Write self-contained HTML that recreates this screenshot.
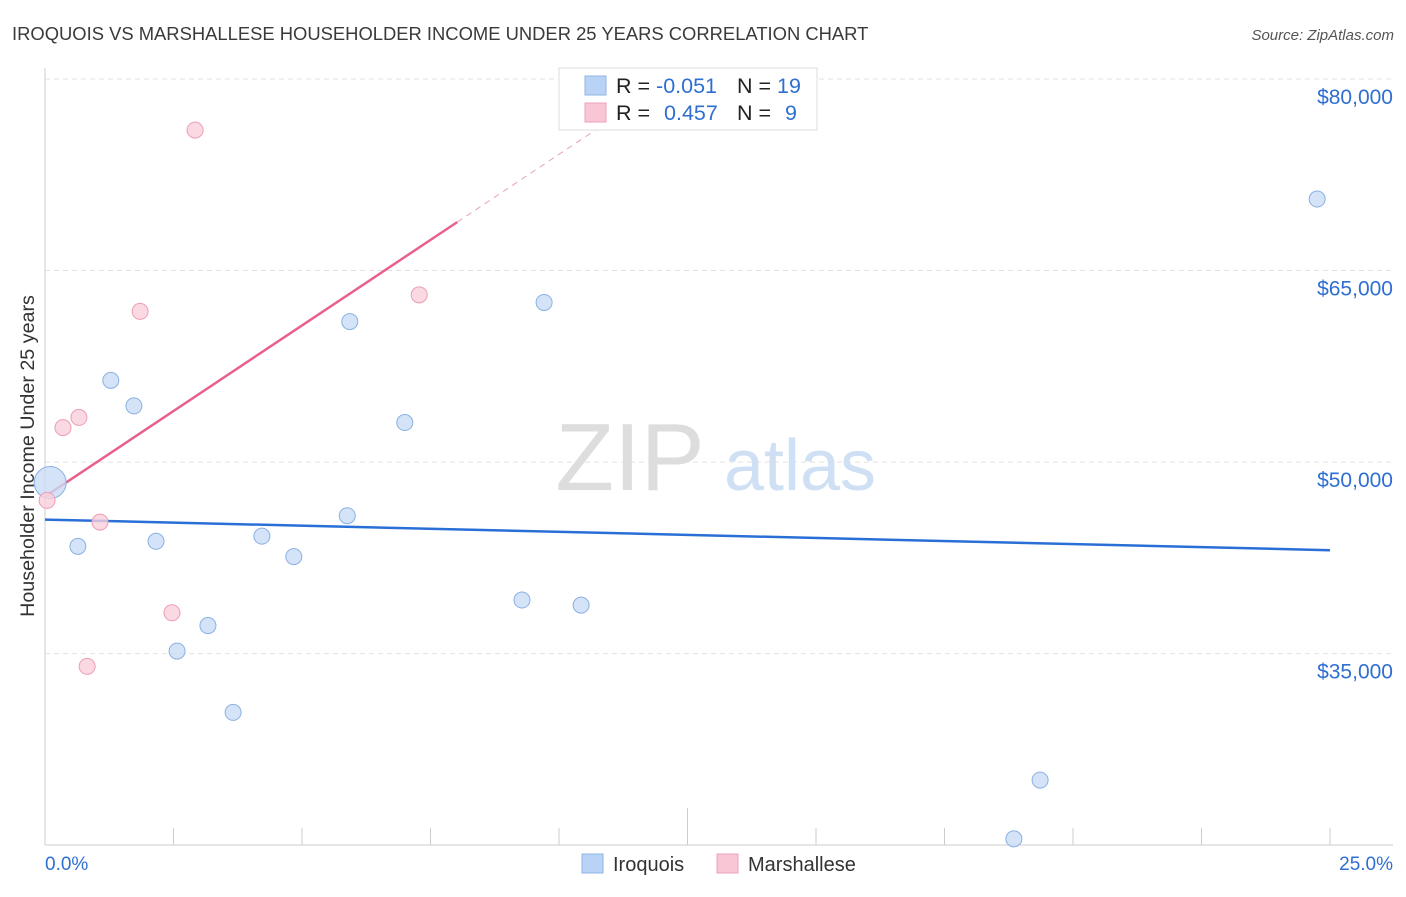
<!DOCTYPE html>
<html><head><meta charset="utf-8"><style>
body{margin:0;background:#fff;font-family:"Liberation Sans",sans-serif;}
svg text{font-family:"Liberation Sans",sans-serif;}
</style></head><body>
<svg width="1406" height="892">
<text x="12" y="40" font-size="18.4" fill="#3a3a3a">IROQUOIS VS MARSHALLESE HOUSEHOLDER INCOME UNDER 25 YEARS CORRELATION CHART</text>
<text x="1394" y="40" font-size="15" fill="#555" font-style="italic" text-anchor="end">Source: ZipAtlas.com</text>
<g id="grid"></g>
<text x="630" y="490" font-size="96" fill="#ddd" font-family="Liberation Serif" text-anchor="middle">ZIP</text>
<text x="800" y="490" font-size="72" fill="#cfe0f5" text-anchor="middle">atlas</text>
<text transform="translate(34,456) rotate(-90)" font-size="19.7" fill="#333" text-anchor="middle">Householder Income Under 25 years</text>
<g id="lines"></g>
<g id="pts"></g>
<rect x="559" y="68" width="258" height="62" fill="#fff" stroke="#ddd"/>
<rect x="585" y="76" width="21" height="19" fill="#b8d3f5" stroke="#8fb4e6"/>
<rect x="585" y="103" width="21" height="19" fill="#f9c6d5" stroke="#eea0b8"/>
<text x="616" y="93" font-size="21.5" fill="#222">R = <tspan fill="#2f6fd1">-0.051</tspan></text>
<text x="737" y="93" font-size="21.5" fill="#222">N = <tspan fill="#2f6fd1">19</tspan></text>
<text x="616" y="120" font-size="21.5" fill="#222">R = <tspan fill="#2f6fd1" dx="8">0.457</tspan></text>
<text x="737" y="120" font-size="21.5" fill="#222">N = <tspan fill="#2f6fd1" dx="8">9</tspan></text>
<text x="45" y="870" font-size="19" fill="#2f6fd1">0.0%</text>
<text x="1393" y="870" font-size="19" fill="#2f6fd1" text-anchor="end">25.0%</text>
<rect x="582" y="854" width="21" height="19" fill="#b8d3f5" stroke="#8fb4e6"/>
<text x="613" y="871" font-size="20" fill="#333">Iroquois</text>
<rect x="717" y="854" width="21" height="19" fill="#f9c6d5" stroke="#eea0b8"/>
<text x="748" y="871" font-size="20" fill="#333">Marshallese</text>
</svg>
<script>
const yTicks=[80000,65000,50000,35000];
const yLabels=["$80,000","$65,000","$50,000","$35,000"];
const xTicks=[0,2.5,5,7.5,10,12.5,15,17.5,20,22.5,25];
const iroX=[0.1,1.28,1.73,0.64,2.16,2.57,3.17,3.66,4.22,4.84,5.88,5.93,7.0,9.28,9.71,10.43,19.36,18.85,24.75];
const iroY=[48.4,56.4,54.4,43.4,43.8,35.2,37.2,30.4,44.2,42.6,45.8,61.0,53.1,39.2,62.5,38.8,25.1,20.5,70.6];
const marX=[0.04,0.35,0.66,0.82,1.07,1.85,2.47,2.92,7.28];
const marY=[47.0,52.7,53.5,34.0,45.3,61.8,38.2,76.0,63.1];
const iroLine=[45.5,43.1];
const marLine=[47.3,2.68];
const NS="http://www.w3.org/2000/svg";
const X=v=>45+v/25*1285;
const Y=k=>79+(80-k)*12.77;
function mk(p,t,a){const e=document.createElementNS(NS,t);for(const k in a)e.setAttribute(k,a[k]);document.getElementById(p).appendChild(e);return e;}
yTicks.forEach((t,i)=>{
 let l=mk('grid','line',{x1:45,x2:1393,y1:Y(t/1000),y2:Y(t/1000),stroke:'#e2e2e2','stroke-dasharray':'5,4'});
 
 
 let tx=mk('grid','text',{x:1393,y:Y(t/1000)+25,'font-size':21,fill:'#2f6fd1','text-anchor':'end'});
 tx.textContent=yLabels[i];
 
 
});
let ax=mk('grid','line',{x1:45,x2:45,y1:68,y2:845,stroke:'#ccc'});


let bx=mk('grid','line',{x1:45,x2:1393,y1:845,y2:845,stroke:'#ccc'});


xTicks.forEach(t=>{
 let l=mk('grid','line',{x1:X(t),x2:X(t),y1:t==12.5?808:828,y2:845,stroke:'#ccc'});
 
 
});
let bl=mk('lines','line',{x1:X(0),x2:X(25),y1:Y(iroLine[0]),y2:Y(iroLine[1]),stroke:'#2a6fd6','stroke-width':2.5});


let pl=mk('lines','line',{x1:X(0),x2:X(8.02),y1:Y(marLine[0]),y2:Y(marLine[0]+marLine[1]*8.02),stroke:'#e8608c','stroke-width':2.5});


let pd=mk('lines','line',{x1:X(8.02),x2:X(10.8),y1:Y(marLine[0]+marLine[1]*8.02),y2:Y(marLine[0]+marLine[1]*10.8),stroke:'#e8a0b8','stroke-width':1,'stroke-dasharray':'6,5'});


iroX.forEach((x,i)=>{
 let c=mk('pts','circle',{cx:X(x),cy:Y(iroY[i]),r:i==0?16:8,fill:'#c9dcf5','fill-opacity':0.8,stroke:'#8ab0e4'});
 
 
});
marX.forEach((x,i)=>{
 let c=mk('pts','circle',{cx:X(x),cy:Y(marY[i]),r:8,fill:'#f9d0dc','fill-opacity':0.8,stroke:'#ec9db5'});
 
 
});
</script>
</body></html>
